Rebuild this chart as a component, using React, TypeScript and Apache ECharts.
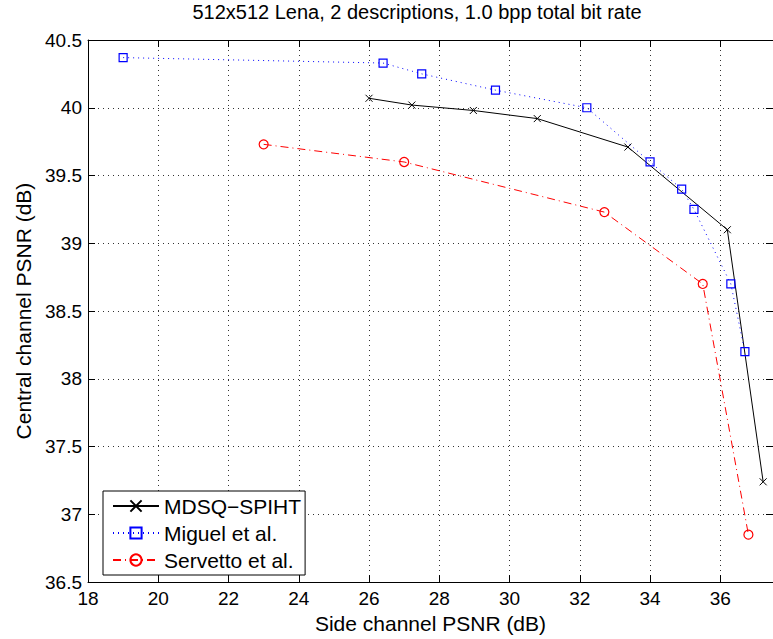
import React, { useEffect, useRef } from "react";
import * as echarts from "echarts";

const titleText = "512x512 Lena, 2 descriptions, 1.0 bpp total bit rate";
const xName = "Side channel PSNR (dB)";
const yName = "Central channel PSNR (dB)";

const seriesNames = ["MDSQ\u2212SPIHT", "Miguel et al.", "Servetto et al."];

const mdsqX = [26.0, 27.22, 28.97, 30.79, 33.37, 36.2, 37.22];
const mdsqY = [40.07, 40.02, 39.98, 39.92, 39.71, 39.1, 37.24];

const miguelX = [19.0, 26.4, 27.5, 29.6, 32.2, 34.0, 34.9, 35.25, 36.3, 36.7];
const miguelY = [40.37, 40.33, 40.25, 40.13, 40.0, 39.6, 39.4, 39.25, 38.7, 38.2];

const servettoX = [23.0, 27.0, 32.7, 35.5, 36.8];
const servettoY = [39.73, 39.6, 39.23, 38.7, 36.85];

const xMin = 18;
const xMax = 37.5;
const xStep = 2;
const yMin = 36.5;
const yMax = 40.5;
const yStep = 0.5;

const FONT = "'Liberation Sans', Arial, Helvetica, sans-serif";

const pairs = (xs: number[], ys: number[]) => xs.map((x, i) => [x, ys[i]]);

export default function App() {
  const ref = useRef<HTMLDivElement>(null);
  useEffect(() => {
    if (!ref.current) return;
    const chart = echarts.init(ref.current, null, { renderer: "svg" });
    const axisCommon = {
      type: "value" as const,
      axisLine: { show: true, lineStyle: { color: "#000", width: 1 } },
      axisTick: { show: true, inside: true, length: 7, lineStyle: { color: "#000" } },
    };
    chart.setOption({
      animation: false,
      backgroundColor: "#fff",
      textStyle: { fontFamily: FONT },
      graphic: [
        {
          type: "text",
          x: 417,
          y: 12,
          style: {
            text: titleText,
            font: `20px ${FONT}`,
            fill: "#000",
            align: "center",
            verticalAlign: "middle",
          },
        },
      ],
      grid: { left: 88, top: 40, right: -7, bottom: 53, containLabel: false },
      legend: {
        orient: "vertical",
        left: 103,
        top: 491,
        align: "left",
        itemWidth: 46,
        itemHeight: 14,
        itemGap: 5,
        padding: [4, 4, 4, 9],
        borderColor: "#000",
        borderWidth: 1,
        backgroundColor: "#fff",
        textStyle: { fontFamily: FONT, fontSize: 21, color: "#000", lineHeight: 22 },
        data: seriesNames,
      },
      xAxis: [
        {
          ...axisCommon,
          position: "bottom",
          min: xMin,
          max: xMax,
          interval: xStep,
          name: xName,
          nameLocation: "middle",
          nameGap: 30,
          nameTextStyle: { fontFamily: FONT, fontSize: 21, color: "#000" },
          axisLabel: {
            fontFamily: FONT,
            fontSize: 19,
            color: "#000",
            margin: 7,
            showMaxLabel: false,
            formatter: (v: number) => (Math.abs(v % xStep) < 1e-9 ? String(v) : ""),
          },
          splitLine: { show: true, lineStyle: { color: "#333", type: [1, 4], width: 1 } },
        },
        {
          ...axisCommon,
          position: "top",
          min: xMin,
          max: xMax,
          interval: xStep,
          axisLabel: { show: false },
          splitLine: { show: false },
        },
      ],
      yAxis: [
        {
          ...axisCommon,
          position: "left",
          min: yMin,
          max: yMax,
          interval: yStep,
          name: yName,
          nameLocation: "middle",
          nameGap: 54,
          nameTextStyle: { fontFamily: FONT, fontSize: 21, color: "#000" },
          axisLabel: { fontFamily: FONT, fontSize: 19, color: "#000", margin: 6 },
          splitLine: { show: true, lineStyle: { color: "#333", type: [1, 4], width: 1 } },
        },
        {
          ...axisCommon,
          position: "right",
          min: yMin,
          max: yMax,
          interval: yStep,
          axisLabel: { show: false },
          splitLine: { show: false },
        },
      ],
      series: [
        {
          name: seriesNames[0],
          type: "line",
          data: pairs(mdsqX, mdsqY),
          symbol: "path://M0,0L10,10M0,10L10,0",
          symbolSize: 7,
          lineStyle: { color: "#000", width: 1, type: "solid" },
          itemStyle: { color: "none", borderColor: "#000", borderWidth: 1 },
          z: 3,
        },
        {
          name: seriesNames[1],
          type: "line",
          data: pairs(miguelX, miguelY),
          symbol: "rect",
          symbolSize: 8,
          lineStyle: { color: "#0000ff", width: 1, type: [1, 4] },
          itemStyle: { color: "none", borderColor: "#0000ff", borderWidth: 1.2 },
          z: 4,
        },
        {
          name: seriesNames[2],
          type: "line",
          data: pairs(servettoX, servettoY),
          symbol: "circle",
          symbolSize: 9,
          lineStyle: { color: "#ff0000", width: 1, type: [8, 4, 1, 4] },
          itemStyle: { color: "none", borderColor: "#ff0000", borderWidth: 1.2 },
          z: 5,
        },
      ],
    });
    return () => chart.dispose();
  }, []);
  return (
    <div
      ref={ref}
      style={{ position: "absolute", left: 0, top: 0, width: 773, height: 639 }}
    />
  );
}
